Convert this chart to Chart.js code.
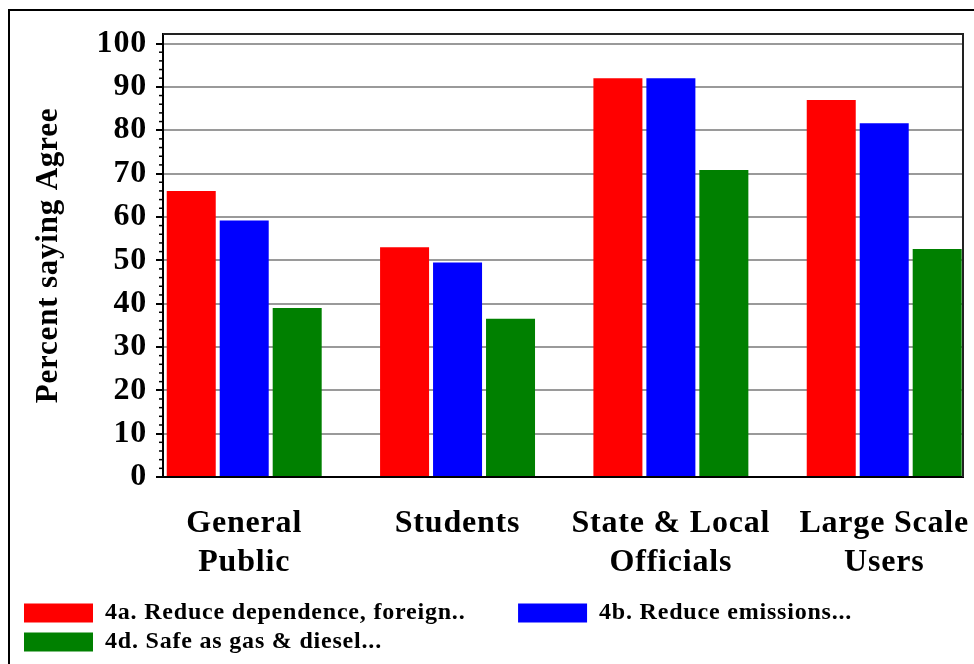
<!DOCTYPE html>
<html lang="en">
<head>
    <meta charset="UTF-8">
    <title>Percent saying Agree</title>
    <script src="https://cdn.jsdelivr.net/npm/chart.js@4.4.1/dist/chart.umd.min.js"></script>
    <style>
        body{
            margin: 0;
            background: white;
            overflow: hidden;
        }
        .divGrafico{
            position: relative;
            width: 974px;
            height: 664px;
        }
    </style>
</head>
<body>
    <div class="divGrafico">
        <canvas id="grafico"></canvas>
    </div>

    <script>
        // groups on the x axis (one array entry per text line)
        const grupos = [['General', 'Public'], ['Students'], ['State & Local', 'Officials'], ['Large Scale', 'Users']];
        const posicoes = [0, 1, 2, 3];

        const nomesSeries = ['4a. Reduce dependence, foreign..', '4b. Reduce emissions...', '4d. Safe as gas & diesel...'];
        const reduzDependencia = [66, 53, 92, 87];
        const reduzEmissoes = [59.2, 49.5, 92, 81.6];
        const seguroGasDiesel = [39, 36.5, 70.8, 52.6];

        const ticksY = [0, 10, 20, 30, 40, 50, 60, 70, 80, 90, 100];

        const fonte = "'Liberation Serif', 'Times New Roman', serif";

        function pontos(valores) {
            return valores.map((v, i) => ({x: posicoes[i], y: v}));
        }

        // the original text is a bit more spread out
        const espacamento = {
            id: 'espacamento',
            beforeUpdate(chart) { chart.ctx.letterSpacing = '0.8px'; },
            beforeDraw(chart) { chart.ctx.letterSpacing = '0.8px'; }
        };

        // outer frame + box around plot + minor ticks on the y axis
        const molduras = {
            id: 'molduras',
            beforeDraw(chart) {
                const ctx = chart.ctx;
                ctx.save();
                ctx.strokeStyle = '#000';
                ctx.lineWidth = 2;
                ctx.beginPath();
                ctx.moveTo(9, 700);
                ctx.lineTo(9, 10);
                ctx.lineTo(1000, 10);
                ctx.stroke();
                ctx.restore();
            },
            afterDraw(chart) {
                const ctx = chart.ctx;
                const area = chart.chartArea;
                const y = chart.scales.y;
                ctx.save();
                ctx.strokeStyle = '#222';
                ctx.lineWidth = 2;
                ctx.beginPath();
                ctx.moveTo(area.left, area.top);
                ctx.lineTo(area.right, area.top);
                ctx.lineTo(area.right, area.bottom);
                ctx.stroke();
                ctx.strokeStyle = '#000';
                ctx.lineWidth = 1.5;
                for (let v = 0; v <= 100; v += 2) {
                    if (v % 10 === 0) continue;
                    const py = y.getPixelForValue(v);
                    ctx.beginPath();
                    ctx.moveTo(area.left - 4, py);
                    ctx.lineTo(area.left, py);
                    ctx.stroke();
                }
                ctx.restore();
            }
        };

        let grafico = new Chart(document.getElementById('grafico'), {
            type: 'bar',
            data: {
                datasets: [{
                    label: nomesSeries[0],
                    backgroundColor: '#ff0000',
                    borderWidth: 0,
                    data: pontos(reduzDependencia)
                }, {
                    label: nomesSeries[1],
                    backgroundColor: '#0000ff',
                    borderWidth: 0,
                    data: pontos(reduzEmissoes)
                }, {
                    label: nomesSeries[2],
                    backgroundColor: '#008000',
                    borderWidth: 0,
                    data: pontos(seguroGasDiesel)
                }]
            },
            options: {
                responsive: true,
                maintainAspectRatio: false,
                animation: false,
                categoryPercentage: 0.745,
                barPercentage: 0.925,
                layout: {
                    padding: {left: 19, top: 34, right: 11, bottom: 0}
                },
                plugins: {
                    tooltip: {enabled: false},
                    legend: {
                        position: 'bottom',
                        align: 'start',
                        labels: {
                            color: '#000',
                            boxWidth: 69,
                            boxHeight: 19,
                            padding: 5,
                            font: {family: fonte, size: 24, weight: 'bold'},
                            generateLabels(chart) {
                                const itens = Chart.defaults.plugins.legend.labels.generateLabels(chart);
                                // keeps the second entry further right, as in the original
                                itens[0].text = itens[0].text + '       ';
                                return itens;
                            }
                        }
                    }
                },
                scales: {
                    x: {
                        type: 'linear',
                        offset: false,
                        min: -0.3807,
                        max: 3.3693,
                        grid: {display: false},
                        border: {display: true, color: '#000', width: 2},
                        afterBuildTicks(scale) {
                            scale.ticks = posicoes.map(v => ({value: v}));
                        },
                        afterFit(scale) {
                            scale.height = 119;
                            scale.paddingLeft = 0;
                            scale.paddingRight = 0;
                        },
                        ticks: {
                            color: '#000',
                            padding: 20,
                            maxRotation: 0,
                            autoSkip: false,
                            font: {family: fonte, size: 32, weight: 'bold'},
                            callback: (v) => grupos[v]
                        }
                    },
                    y: {
                        min: 0,
                        max: 102.2,
                        afterBuildTicks(scale) {
                            scale.ticks = ticksY.map(v => ({value: v}));
                        },
                        afterFit(scale) {
                            scale.width = 144;
                            scale.paddingTop = 0;
                            scale.paddingBottom = 0;
                        },
                        grid: {
                            color: '#9a9a9a',
                            lineWidth: 2,
                            tickColor: '#000',
                            tickWidth: 2,
                            tickLength: 7
                        },
                        border: {display: true, color: '#000', width: 2},
                        ticks: {
                            color: '#000',
                            padding: 9,
                            font: {family: fonte, size: 32, weight: 'bold'}
                        },
                        title: {
                            display: true,
                            text: 'Percent saying Agree',
                            color: '#000',
                            padding: {top: 11, bottom: 0},
                            font: {family: fonte, size: 31, weight: 'bold'}
                        }
                    }
                }
            },
            plugins: [espacamento, molduras]
        });
    </script>
</body>
</html>
